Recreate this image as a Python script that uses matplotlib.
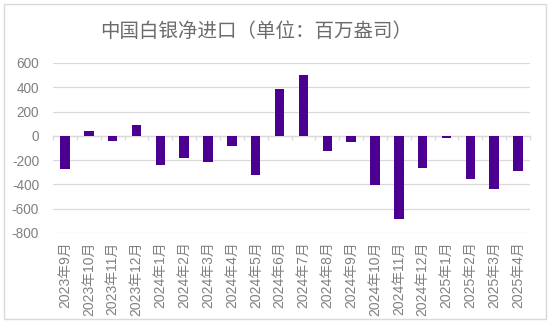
import numpy as np
import matplotlib
matplotlib.use('Agg')
import matplotlib.pyplot as plt
from matplotlib.patches import Rectangle

plt.rcParams['font.family'] = ['Liberation Sans', 'Noto Sans CJK SC', 'DejaVu Sans']

# data (million ounces)
months = ['2023年9月', '2023年10月', '2023年11月', '2023年12月',
          '2024年1月', '2024年2月', '2024年3月', '2024年4月', '2024年5月',
          '2024年6月', '2024年7月', '2024年8月', '2024年9月', '2024年10月',
          '2024年11月', '2024年12月', '2025年1月', '2025年2月', '2025年3月',
          '2025年4月']
net_imports = [-274, 38, -44, 90, -238, -181, -214, -82, -323,
               387, 505, -127, -48, -405, -688, -268, -14, -356, -438, -288]
yticks = [600, 400, 200, 0, -200, -400, -600, -800]

gray = '#808080'
bar_col = '#4b0092'

fig = plt.figure(figsize=(5.5, 3.22), dpi=100)
ax = fig.add_axes([53/550, 1-233/322, (530-53)/550, (233-63)/322])

x = np.arange(len(months))
ax.bar(x, net_imports, width=0.4, color=bar_col, zorder=3)

ax.set_xlim(-0.5, len(months) - 0.5)
ax.set_ylim(-800, 600)
ax.set_yticks(yticks)
ax.set_yticklabels([str(v) for v in yticks])
ax.tick_params(axis='y', length=0, colors=gray, labelsize=9.8, pad=10)
ax.grid(axis='y', color='#d9d9d9', linewidth=0.9, zorder=0)

for s in ['top', 'right', 'left']:
    ax.spines[s].set_visible(False)
# category axis sits on the zero line, tick marks between categories
ax.spines['bottom'].set_position(('data', 0))
ax.spines['bottom'].set_color('#d9d9d9')
ax.spines['bottom'].set_linewidth(0.9)
ax.set_xticks(np.arange(len(months) + 1) - 0.5)
ax.set_xticklabels([])
ax.tick_params(axis='x', length=3, direction='out', color='#d9d9d9', width=0.9)

# month labels drawn at the bottom of the plot area
sec = ax.secondary_xaxis('bottom')
sec.set_xticks(x)
sec.set_xticklabels(months, rotation=90, va='top', ha='center')
sec.tick_params(length=0, colors=gray, labelsize=10, pad=6)
sec.spines['bottom'].set_visible(False)

fig.text(256/550, 1-32/322, '中国白银净进口（单位：百万盎司）', ha='center', va='center',
         fontsize=14, color='#6b6b6b')

# outer chart border
fig.patches.append(Rectangle((4/550, 3/322), 542/550, 315/322, transform=fig.transFigure,
                             fill=False, edgecolor='#d9d9d9', linewidth=1))

plt.savefig('out.png', dpi=100)
plt.close()
